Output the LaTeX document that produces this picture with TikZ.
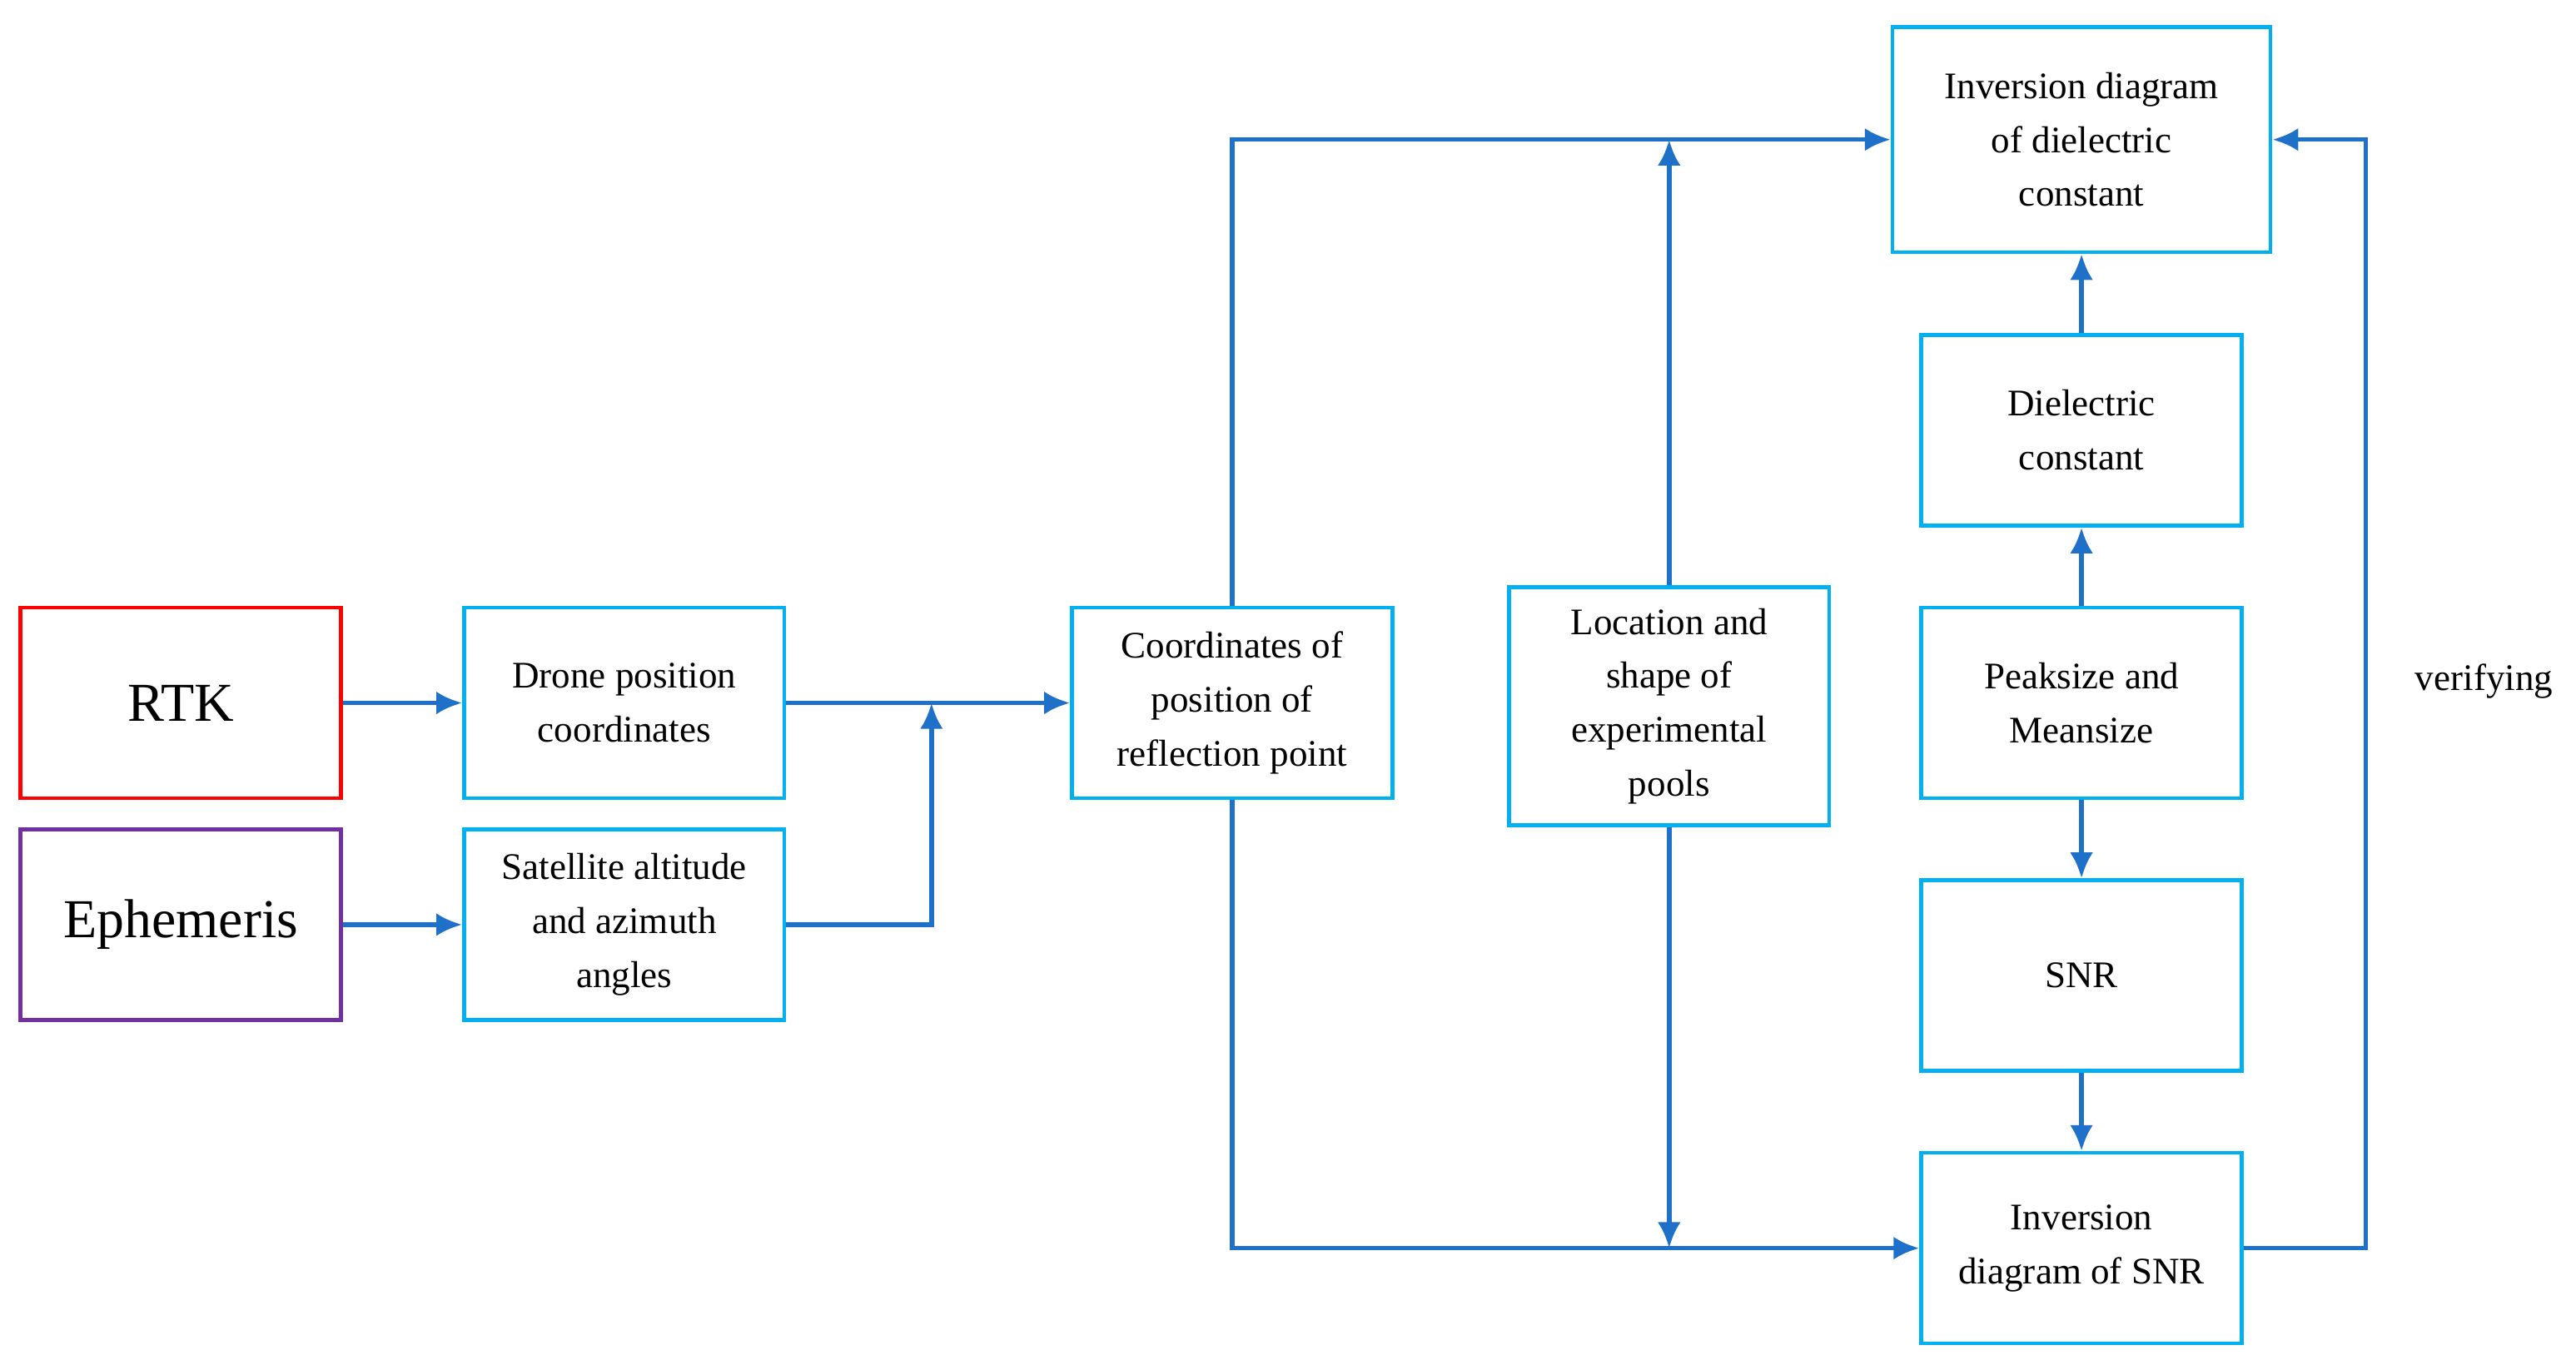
\documentclass[tikz,border=0pt]{standalone}
\usepackage{fontspec}
\setmainfont{Liberation Serif}
\usetikzlibrary{positioning}
\usetikzlibrary{arrows.meta}
\definecolor{linblue}{RGB}{31,112,200}
\definecolor{boxcyan}{RGB}{0,176,240}
\begin{document}
\begin{tikzpicture}[x=0.02cm,y=-0.02cm,
        box/.style={rectangle,draw=boxcyan,line width=1.3pt,align=center,minimum width=3.9cm,minimum height=2.32cm,inner sep=1pt},
        src/.style={rectangle,line width=1.3pt,align=center,minimum width=3.9cm,minimum height=2.32cm,font=\fontsize{19}{23}\selectfont},
        arr/.style={line width=1.6pt,draw=linblue,-{Latex[length=9pt,width=8pt]}},
        ln/.style={line width=1.6pt,draw=linblue}
        ]
        \useasboundingbox (0,0) rectangle (1568,828);
        \fontsize{13}{18.7}\selectfont
        \node (rtk) [src,draw=red] at (110,428) {RTK};
        \node (eph) [src,draw={rgb,255:red,112;green,48;blue,160}] at (110,563) {Ephemeris};
        \node (drone) [box] at (380,428) {Drone position\\coordinates};
        \node (sat) [box] at (380,563) {Satellite altitude\\and azimuth\\angles};
        \node (refl) [box] at (750,428) {Coordinates of\\position of\\reflection point};
        \node (pool) [box,minimum height=2.9cm] at (1016,430) {Location and\\shape of\\experimental\\pools};
        \node (invd) [box,minimum width=4.6cm,minimum height=2.74cm] at (1267,85) {Inversion diagram\\of dielectric\\constant};
        \node (diel) [box] at (1267,262) {Dielectric\\constant};
        \node (peak) [box] at (1267,428) {Peaksize and\\Meansize};
        \node (snr) [box] at (1267,594) {SNR};
        \node (invs) [box] at (1267,760) {Inversion\\diagram of SNR};
        \node (verif) at (1512,415) {verifying};
        \coordinate (join) at (567,428);
        \coordinate (top) at (1016,85);
        \coordinate (bot) at (1016,760);
        \draw[arr] (rtk) -- (drone);
        \draw[arr] (eph) -- (sat);
        \draw[arr] (drone) -- (refl);
        \draw[arr] (sat.east) -| (join);
        \draw[arr] (refl.north) |- (invd.west);
        \draw[arr] (refl.south) |- (invs.west);
        \draw[arr] (pool.north) -- (top);
        \draw[arr] (pool.south) -- (bot);
        \draw[arr] (peak) -- (diel);
        \draw[arr] (diel) -- (invd);
        \draw[arr] (peak) -- (snr);
        \draw[arr] (snr) -- (invs);
        \draw[arr] (invs.east) -- (1440,760) |- (invd.east);
    \end{tikzpicture}
\end{document}
